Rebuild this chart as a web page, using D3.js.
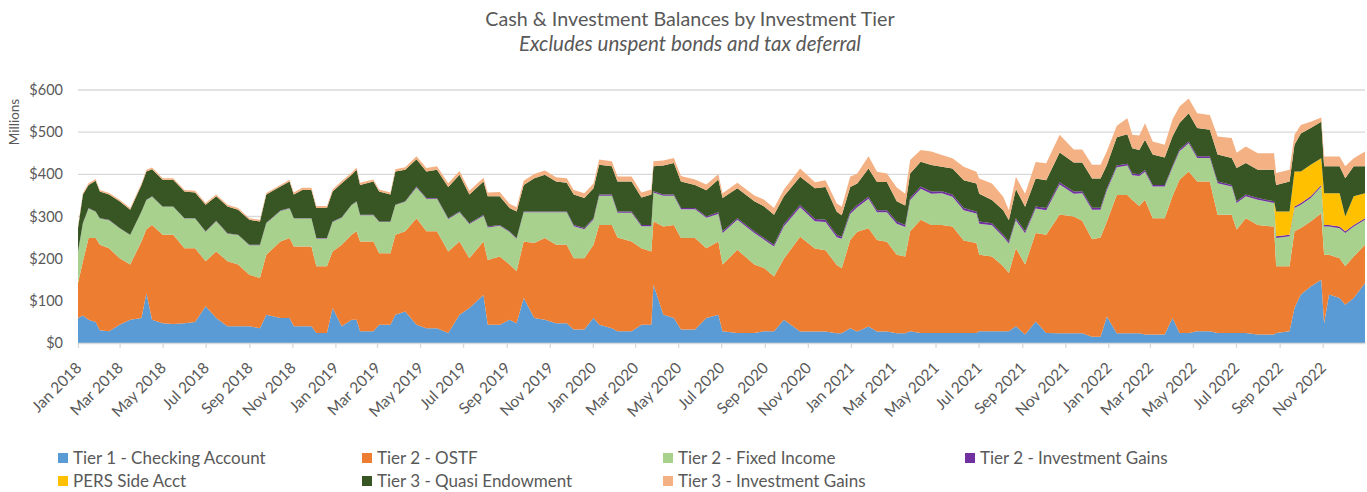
<!DOCTYPE html>
<html>
<head>
<meta charset="utf-8">
<script src="https://cdn.jsdelivr.net/npm/d3@7/dist/d3.min.js"></script>
<style>
body { margin: 0; background: #fff; }
text { font-family: Lato, "Liberation Sans", sans-serif; fill: #595959; }
</style>
</head>
<body>
<svg id="chart" width="1367" height="492"></svg>
<script>
// sample dates (roughly twice a month, plus the jumps)
var dates = [
    "2018-01-01","2018-01-08","2018-01-16","2018-01-26","2018-02-01","2018-02-14","2018-03-01","2018-03-16",
    "2018-04-01","2018-04-08","2018-04-16","2018-05-01","2018-05-16","2018-06-01","2018-06-16","2018-07-01",
    "2018-07-16","2018-08-01","2018-08-16","2018-09-01","2018-09-16","2018-09-25","2018-10-15","2018-10-28",
    "2018-11-03","2018-11-15","2018-11-28","2018-12-05","2018-12-20","2018-12-28","2019-01-10","2019-01-24",
    "2019-01-31","2019-02-05","2019-02-24","2019-03-04","2019-03-20","2019-03-27","2019-04-10","2019-04-26",
    "2019-05-10","2019-05-25","2019-06-10","2019-06-26","2019-07-10","2019-07-30","2019-08-05","2019-08-22",
    "2019-09-05","2019-09-15","2019-09-25","2019-10-10","2019-10-25","2019-11-10","2019-11-25","2019-12-05",
    "2019-12-20","2020-01-02","2020-01-10","2020-01-28","2020-02-05","2020-02-25","2020-03-10","2020-03-24",
    "2020-03-27","2020-04-10","2020-04-25","2020-05-05","2020-05-25","2020-06-10","2020-06-27","2020-07-03",
    "2020-07-24","2020-08-17","2020-08-31","2020-09-14","2020-09-28","2020-10-21","2020-11-11","2020-11-26",
    "2020-12-12","2020-12-19","2020-12-31","2021-01-10","2021-01-26","2021-02-07","2021-02-21","2021-03-07",
    "2021-03-19","2021-03-26","2021-04-10","2021-04-25","2021-05-10","2021-05-25","2021-06-10","2021-06-28",
    "2021-07-02","2021-07-20","2021-08-05","2021-08-13","2021-08-23","2021-09-05","2021-09-20","2021-10-05",
    "2021-10-24","2021-11-13","2021-11-25","2021-12-09","2021-12-21","2021-12-30","2022-01-13","2022-01-28",
    "2022-02-04","2022-02-14","2022-02-22","2022-03-05","2022-03-22","2022-04-02","2022-04-12","2022-04-25",
    "2022-05-07","2022-05-25","2022-06-05","2022-06-25","2022-07-02","2022-07-15","2022-08-01","2022-08-24",
    "2022-08-27","2022-09-15","2022-09-22","2022-10-01","2022-10-15","2022-10-30","2022-11-03","2022-11-10",
    "2022-11-25","2022-12-03","2022-12-15","2022-12-31"
];

// $ millions
var tier1Checking = [
    59,65,55,50,30,28,43,55, 59,118,55,47,45,47,50,87, 59,40,40,40,35,67,59,59,
    40,40,40,24,24,83,40,55, 55,28,28,43,43,67,75,43, 35,35,24,67,83,114,43,43,
    55,47,107,59,55,47,47,32, 32,60,43,35,28,28,43,43, 138,67,59,32,32,59,67,28,
    24,24,28,28,55,27,27,27, 23,23,35,27,39,27,27,23, 23,28,24,24,24,24,24,24,
    28,28,28,28,40,20,51,24, 23,23,23,15,15,63,23,23, 23,23,20,20,20,59,24,24,
    28,28,24,24,24,24,20,20, 24,28,83,115,134,150,47,115, 107,91,107,142
];
var tier2Ostf = [
    83,129,194,199,203,197,158,131, 182,152,225,210,212,178,175,107, 158,154,146,122,119,142,182,190,
    189,189,189,158,158,134,193,202, 210,213,213,170,170,190,190,253, 230,230,193,174,118,127,154,162,
    131,123,134,178,194,186,186,169, 169,173,237,245,222,213,182,174, 150,209,221,217,217,166,174,158,
    197,162,150,130,145,225,197,193, 162,154,209,237,233,217,213,186, 182,237,268,256,256,252,219,213,
    181,177,154,138,185,166,210,233, 282,277,267,231,235,225,328,328, 316,302,320,276,276,289,363,383,
    355,355,280,280,245,272,260,256, 158,154,182,158,154,158,162,94, 94,91,98,91
];
var tier2FixedIncome = [
    74,90,70,62,62,66,71,70, 70,69,67,66,66,70,70,70, 72,65,70,70,78,75,72,70,
    66,66,66,66,66,70,64,70, 70,62,62,74,74,70,70,73, 77,77,77,69,81,61,77,73,
    77,77,69,73,61,77,77,76, 69,60,69,69,59,68,52,60, 69,73,69,68,68,72,65,75,
    71,75,67,71,77,70,65,67, 66,70,62,58,70,66,70,74, 70,74,74,74,75,71,72,70,
    74,74,70,70,66,74,58,58, 71,54,65,70,66,74,66,70, 59,71,66,75,75,68,68,67,
    56,56,75,67,63,52,60,56, 67,71,55,55,56,63,67,67, 71,79,71,59
];
var tier2Gains = [
    1,1,1,1,1,1,1,1, 1,1,1,1,1,1,1,1, 1,1,1,1,1,1,1,1,
    1,1,1,1,1,1,1,1, 1,1,1,1,1,1,1,2, 2,2,2,2,2,2,2,2,
    2,2,2,2,2,2,2,3, 3,3,3,3,3,3,3,3, 3,3,3,3,3,3,4,4,
    4,4,4,4,5,5,5,5, 5,5,5,5,5,5,5,5, 5,5,5,5,5,5,5,5,
    5,5,5,5,5,5,5,5, 5,5,5,5,5,5,4,4, 4,4,4,4,4,4,4,4,
    4,4,4,4,4,4,4,4, 4,4,4,4,4,4,4,4, 4,4,4,4
];
var persSideAcct = [
    0,0,0,0,0,0,0,0, 0,0,0,0,0,0,0,0, 0,0,0,0,0,0,0,0,
    0,0,0,0,0,0,0,0, 0,0,0,0,0,0,0,0, 0,0,0,0,0,0,0,0,
    0,0,0,0,0,0,0,0, 0,0,0,0,0,0,0,0, 0,0,0,0,0,0,0,0,
    0,0,0,0,0,0,0,0, 0,0,0,0,0,0,0,0, 0,0,0,0,0,0,0,0,
    0,0,0,0,0,0,0,0, 0,0,0,0,0,0,0,0, 0,0,0,0,0,0,0,0,
    0,0,0,0,0,0,0,0, 59,55,83,75,75,63,75,75, 79,35,68,59
];
var tier3Quasi = [
    56,67,55,73,63,60,63,59, 63,67,64,63,63,63,61,63, 58,64,59,59,55,67,57,63,
    56,67,67,71,71,71,81,71, 75,71,79,71,64,79,75,65, 63,67,74,87,68,79,72,68,
    55,63,63,79,87,71,68,72, 71,71,71,67,71,71,65,72, 59,69,75,63,55,62,78,79,
    71,71,75,71,66,67,73,78, 55,51,59,51,67,67,67,48, 46,58,59,63,58,62,66,66,
    66,55,58,50,69,58,66,66, 71,69,68,69,69,55,67,70, 60,58,72,72,65,70,63,67,
    67,63,64,64,79,75,67,75, 63,71,63,90,87,87,64,64, 64,91,71,64
];
var tier3Gains = [
    4,4,4,4,4,4,4,4, 4,4,4,4,4,4,4,4, 4,4,4,4,4,4,4,4,
    5,5,5,5,5,5,5,5, 5,5,5,5,5,5,6,7, 8,8,9,9,9,9,9,10,
    10,10,10,10,10,10,11,11, 11,11,12,12,12,12,12,12, 12,12,12,13,13,14,12,11,
    13,14,16,16,16,20,14,16, 20,20,24,24,29,24,20,33, 28,32,28,32,28,24,32,28,
    36,39,32,24,29,31,39,40, 42,31,31,33,33,33,27,38, 32,34,39,31,30,40,39,35,
    35,35,43,47,36,39,39,39, 28,28,24,20,15,10,23,23, 23,28,19,35
];

var seriesNames = ["Tier 1 - Checking Account", "Tier 2 - OSTF", "Tier 2 - Fixed Income",
    "Tier 2 - Investment Gains", "PERS Side Acct", "Tier 3 - Quasi Endowment", "Tier 3 - Investment Gains"];
var seriesData = [tier1Checking, tier2Ostf, tier2FixedIncome, tier2Gains, persSideAcct, tier3Quasi, tier3Gains];
var seriesColors = ["#5B9BD5", "#ED7D31", "#A9D18E", "#7030A0", "#FFC000", "#375623", "#F4B183"];
var yTicks = [0, 100, 200, 300, 400, 500, 600];

var margin = {top: 90, bottom: 149, left: 78, right: 2};
var width = 1367;
var height = 492;
var svg = d3.select("#chart");

var parseDate = d3.timeParse("%Y-%m-%d");
var rows = dates.map(function (d, i) {
    var row = {date: parseDate(d)};
    seriesNames.forEach(function (name, k) { row[name] = seriesData[k][i]; });
    return row;
});

var xScale = d3.scaleTime()
    .domain([parseDate("2018-01-01"), parseDate("2022-12-31")])
    .range([margin.left, width - margin.right]);
var yScale = d3.scaleLinear()
    .domain([0, 600])
    .range([height - margin.bottom, margin.top]);

// gridlines
svg.append("g")
    .selectAll("line")
    .data(yTicks)
    .enter().append("line")
    .attr("x1", margin.left)
    .attr("x2", width - margin.right)
    .attr("y1", function (d) { return yScale(d); })
    .attr("y2", function (d) { return yScale(d); })
    .attr("stroke", "#D9D9D9")
    .attr("stroke-width", 1.3);

var stacked = d3.stack().keys(seriesNames)(rows);
var area = d3.area()
    .x(function (d) { return xScale(d.data.date); })
    .y0(function (d) { return yScale(d[0]); })
    .y1(function (d) { return yScale(d[1]); });

svg.append("g")
    .selectAll("path")
    .data(stacked)
    .enter().append("path")
    .attr("d", area)
    .attr("fill", function (d, i) { return seriesColors[i]; });

// x axis
var xAxis = d3.axisBottom(xScale)
    .ticks(d3.timeMonth.every(2))
    .tickFormat(d3.timeFormat("%b %Y"))
    .tickSize(5)
    .tickSizeOuter(0);
var gx = svg.append("g")
    .attr("transform", "translate(0," + yScale(0) + ")")
    .call(xAxis);
gx.select(".domain").attr("stroke", "#D9D9D9").attr("stroke-width", 1.3);
gx.selectAll(".tick line").attr("stroke", "#D9D9D9").attr("stroke-width", 1.3);
gx.selectAll(".tick text")
    .attr("text-anchor", "end")
    .attr("x", 0)
    .attr("y", 0)
    .attr("dy", 0)
    .attr("transform", "translate(4,26)rotate(-45)")
    .style("font-size", "15.5px")
    .style("font-family", "Lato, 'Liberation Sans', sans-serif")
    .attr("fill", "#595959");

// y axis labels
svg.append("g")
    .selectAll("text")
    .data(yTicks)
    .enter().append("text")
    .attr("x", 63)
    .attr("y", function (d) { return yScale(d) + 5; })
    .attr("text-anchor", "end")
    .style("font-size", "14.5px")
    .text(function (d) { return "$" + d; });

svg.append("text")
    .attr("transform", "translate(19,122)rotate(-90)")
    .attr("text-anchor", "middle")
    .style("font-size", "13.5px")
    .text("Millions");

// titles
svg.append("text")
    .attr("x", 690)
    .attr("y", 26)
    .attr("text-anchor", "middle")
    .style("font-size", "19.7px")
    .text("Cash & Investment Balances by Investment Tier");
svg.append("text")
    .attr("x", 690)
    .attr("y", 51)
    .attr("text-anchor", "middle")
    .style("font-size", "20.5px")
    .style("font-style", "italic")
    .text("Excludes unspent bonds and tax deferral");

// legend, 4 per row
var legendX = [58, 362, 663, 965];
var legendY = [453, 476];
var legend = svg.append("g")
    .selectAll("g")
    .data(seriesNames)
    .enter().append("g")
    .attr("transform", function (d, i) {
        return "translate(" + legendX[i % 4] + "," + legendY[Math.floor(i / 4)] + ")";
    });
legend.append("rect")
    .attr("width", 10)
    .attr("height", 10)
    .attr("fill", function (d, i) { return seriesColors[i]; });
legend.append("text")
    .attr("x", 15)
    .attr("y", 11)
    .style("font-size", "17px")
    .text(function (d) { return d; });
</script>
</body>
</html>
